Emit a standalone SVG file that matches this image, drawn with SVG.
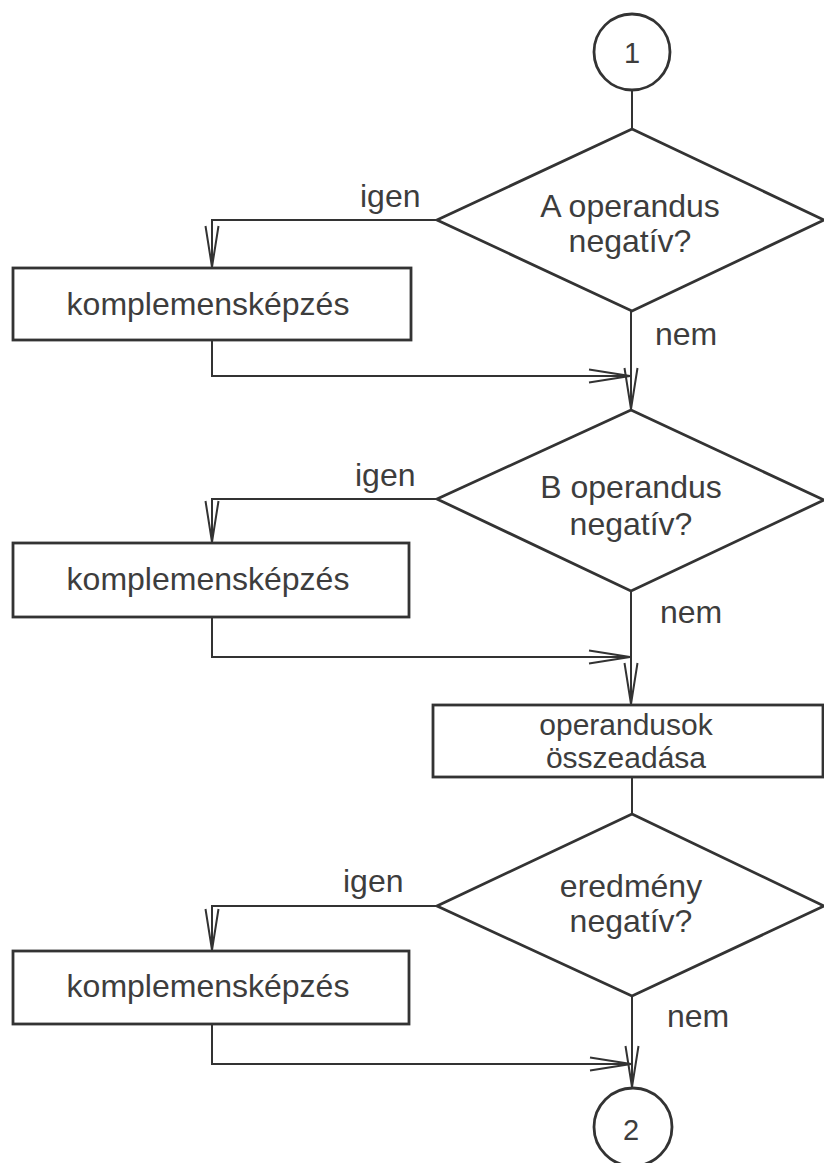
<svg xmlns="http://www.w3.org/2000/svg" width="824" height="1163" viewBox="0 0 824 1163">
  <style>
    .shape { fill: none; stroke: #333; stroke-width: 2.8; }
    .conn { fill: none; stroke: #333; stroke-width: 2; }
    .txt { font-family: "Liberation Sans", Arial, sans-serif; font-size: 32px; fill: #3d3d3d; text-anchor: middle; }
    .lbl { font-family: "Liberation Sans", Arial, sans-serif; font-size: 32px; fill: #3d3d3d; }
  </style>
  <defs>
    <marker id="open" markerUnits="userSpaceOnUse" markerWidth="50" markerHeight="20" viewBox="-45 -10 50 20" refX="0" refY="0" orient="auto" overflow="visible">
      <path d="M-41,-6.5 L0,0 L-41,6.5" fill="none" stroke="#333" stroke-width="2"/>
    </marker>
  </defs>
  <rect width="824" height="1163" fill="#ffffff"/>

  <!-- connectors -->
  <g id="connectors">
    <path class="conn" d="M632,90 V129"/>
    <path class="conn" d="M437,220 H212 V267" marker-end="url(#open)"/>
    <path class="conn" d="M212,340 V376 H630" marker-end="url(#open)"/>
    <path class="conn" d="M631,311 V409" marker-end="url(#open)"/>
    <path class="conn" d="M437,499 H212 V542" marker-end="url(#open)"/>
    <path class="conn" d="M212,617 V657 H630" marker-end="url(#open)"/>
    <path class="conn" d="M631,591 V704" marker-end="url(#open)"/>
    <path class="conn" d="M632,777 V814"/>
    <path class="conn" d="M437,906 H212 V950" marker-end="url(#open)"/>
    <path class="conn" d="M212,1024 V1064 H631" marker-end="url(#open)"/>
    <path class="conn" d="M632,996 V1087" marker-end="url(#open)"/>
    <text class="lbl" x="360" y="207">igen</text>
    <text class="lbl" x="655" y="345">nem</text>
    <text class="lbl" x="355" y="486">igen</text>
    <text class="lbl" x="660" y="623">nem</text>
    <text class="lbl" x="343" y="892">igen</text>
    <text class="lbl" x="667" y="1027">nem</text>
  </g>

  <g id="start">
    <circle class="shape" cx="632" cy="52" r="38"/>
    <text class="txt" x="632" y="63" style="font-size:29px">1</text>
  </g>

  <g id="decision-a">
    <polygon class="shape" points="632,129 824,220 632,311 437,220"/>
    <text class="txt" x="630" y="217">A operandus</text>
    <text class="txt" x="630" y="252">negatív?</text>
  </g>

  <g id="complement-a">
    <rect class="shape" x="13" y="268" width="398" height="72"/>
    <text class="txt" x="208" y="315">komplemensképzés</text>
  </g>

  <g id="decision-b">
    <polygon class="shape" points="631,410 824,500 631,591 437,499"/>
    <text class="txt" x="631" y="498">B operandus</text>
    <text class="txt" x="631" y="535">negatív?</text>
  </g>

  <g id="complement-b">
    <rect class="shape" x="13" y="543" width="396" height="74"/>
    <text class="txt" x="208" y="590">komplemensképzés</text>
  </g>

  <g id="addition">
    <rect class="shape" x="433" y="705" width="390" height="72"/>
    <text class="txt" x="626" y="735" style="font-size:30px">operandusok</text>
    <text class="txt" x="626" y="768" style="font-size:30px">összeadása</text>
  </g>

  <g id="decision-result">
    <polygon class="shape" points="632,814 824,906 632,996 437,906"/>
    <text class="txt" x="631" y="897">eredmény</text>
    <text class="txt" x="631" y="932">negatív?</text>
  </g>

  <g id="complement-result">
    <rect class="shape" x="13" y="951" width="396" height="73"/>
    <text class="txt" x="208" y="997">komplemensképzés</text>
  </g>

  <g id="end">
    <circle class="shape" cx="633" cy="1127" r="39"/>
    <text class="txt" x="631" y="1140" style="font-size:29px">2</text>
  </g>
</svg>
